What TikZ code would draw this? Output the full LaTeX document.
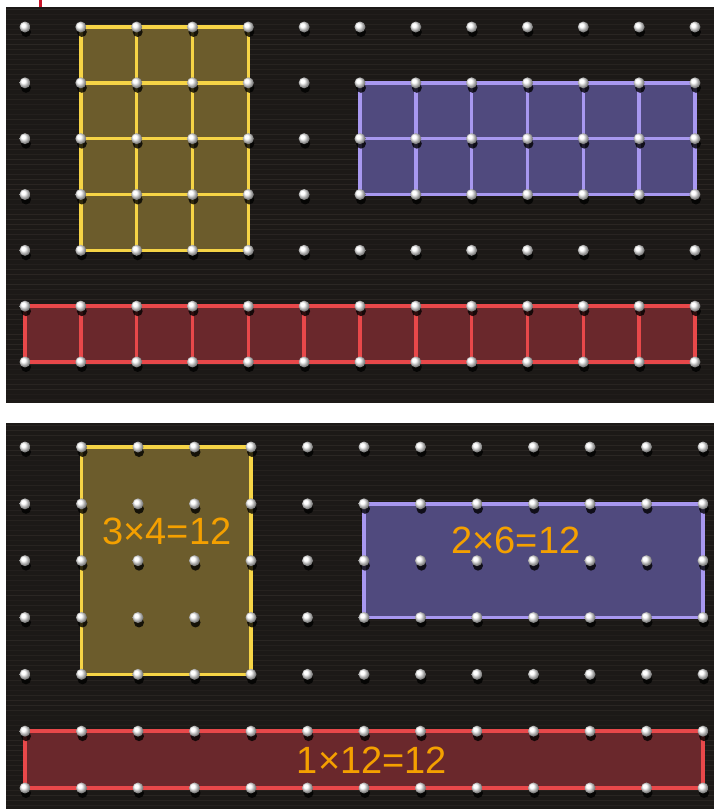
\documentclass[tikz,border=0pt]{standalone}
\usepackage{fontspec}
\setmainfont{Liberation Sans}
\definecolor{boardbg}{RGB}{28,25,23}
\definecolor{grain}{RGB}{60,54,50}
\definecolor{bandyellow}{RGB}{246,212,70}
\definecolor{fillyellow}{RGB}{108,92,44}
\definecolor{bandblue}{RGB}{168,152,240}
\definecolor{fillblue}{RGB}{80,74,126}
\definecolor{bandred}{RGB}{232,72,74}
\definecolor{fillred}{RGB}{106,40,44}
\definecolor{labelorange}{RGB}{244,160,0}
\definecolor{cutmark}{RGB}{200,20,40}
\tikzset{
  boardbox/.style={fill=boardbg},
  grainline/.style={grain,line width=0.8pt},
  band/.style={line width=3.6pt,line join=round,line cap=round},
  pegshade/.style={circle,fill=black,opacity=0.8,inner sep=0pt,minimum size=10pt},
  peg/.style={circle,inner sep=0pt,minimum size=11pt,shading=ball,ball color=white},
  numlab/.style={text=labelorange,font=\fontsize{38}{40}\selectfont,inner sep=0pt}
}

\begin{document}
\begin{tikzpicture}[x=1pt,y=-1pt]
  \useasboundingbox (0,0) rectangle (714,809);
  \fill[white] (0,0) rectangle (714,809);
  \draw[cutmark,line width=3pt] (40,0) -- (40,7);
  % the two boards
  \fill[boardbox] (6,7) rectangle (714,403);
  \fill[boardbox] (6,423) rectangle (714,809);
  \pgfmathsetseed{7}
  \foreach \k in {0,...,78} {
    \pgfmathsetmacro{\op}{0.15+0.35*rnd}
    \draw[grainline,opacity=\op] (6,{9+5*\k}) -- (714,{9+5*\k});
  }
  \foreach \k in {0,...,76} {
    \pgfmathsetmacro{\op}{0.15+0.35*rnd}
    \draw[grainline,opacity=\op] (6,{425+5*\k}) -- (714,{425+5*\k});
  }
  % peg positions
  \foreach \i in {0,...,12} {
    \foreach \j in {0,...,6} {
      \coordinate (t-\i-\j) at ({25+55.83*\i},{27+55.83*\j});
      \coordinate (b-\i-\j) at ({25+56.5*\i},{447+56.83*\j});
    }
  }
  % top board: unit squares
  \fill[fillyellow] (t-1-0) rectangle (t-4-4);
  \fill[fillblue] (t-6-1) rectangle (t-12-3);
  \fill[fillred] (t-0-5) rectangle (t-12-6);
  \foreach \i in {1,...,4} \draw[band,bandyellow] (t-\i-0) -- (t-\i-4);
  \foreach \j in {0,...,4} \draw[band,bandyellow] (t-1-\j) -- (t-4-\j);
  \foreach \i in {6,...,12} \draw[band,bandblue] (t-\i-1) -- (t-\i-3);
  \foreach \j in {1,...,3} \draw[band,bandblue] (t-6-\j) -- (t-12-\j);
  \foreach \i in {0,...,12} \draw[band,bandred] (t-\i-5) -- (t-\i-6);
  \foreach \j in {5,6} \draw[band,bandred] (t-0-\j) -- (t-12-\j);
  % bottom board: outlines and products
  \fill[fillyellow] (b-1-0) rectangle (b-4-4);
  \fill[fillblue] (b-6-1) rectangle (b-12-3);
  \fill[fillred] (b-0-5) rectangle (b-12-6);
  \draw[band,bandyellow] (b-1-0) rectangle (b-4-4);
  \draw[band,bandblue] (b-6-1) rectangle (b-12-3);
  \draw[band,bandred] (b-0-5) rectangle (b-12-6);
  % pegs
  \foreach \i in {0,...,12} {
    \foreach \j in {0,...,6} {
      \node[pegshade] at ([xshift=1pt,yshift=-5pt]t-\i-\j) {};
      \node[peg] (pt-\i-\j) at (t-\i-\j) {};
      \node[pegshade] at ([xshift=1pt,yshift=-5pt]b-\i-\j) {};
      \node[peg] (pb-\i-\j) at (b-\i-\j) {};
    }
  }
  \node[numlab] (lab-yellow) at (167,531) {3×4=12};
  \node[numlab] (lab-blue) at (516,540) {2×6=12};
  \node[numlab] (lab-red) at (372,760) {1×12=12};
\end{tikzpicture}
\end{document}
